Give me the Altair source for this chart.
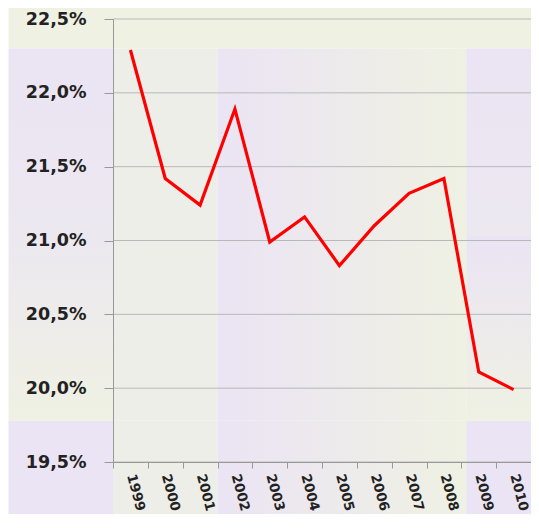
import altair as alt
import pandas as pd

# ---- data ----
years = list(range(1999, 2011))
values = [22.29, 21.42, 21.24, 21.89, 20.99, 21.16, 20.83, 21.10, 21.32, 21.42, 20.11, 19.99]
y_ticks = [19.5, 20.0, 20.5, 21.0, 21.5, 22.0, 22.5]
x_bounds = [1998.5 + i for i in range(13)]

df = pd.DataFrame({"year": years, "value": values})
grid_df = pd.DataFrame({"v": y_ticks})

GREEN = "#eff1e3"
LAV = "#ebe4f4"
GREY = "#eeeee8"
LAVGREY = "#ece8f0"

def lin(c0, c1, vertical=False):
    return alt.LinearGradient(
        gradient="linear",
        x1=0, y1=0,
        x2=0 if vertical else 1,
        y2=1 if vertical else 0,
        stops=[alt.GradientStop(offset=0, color=c0), alt.GradientStop(offset=1, color=c1)],
    )

# decorative background tiles (data units)
XL, XA, XB, XC, XR = 1995.5, 1998.5, 2001.5, 2008.64, 2010.8
YT, Y1, Y2, Y3, YB = 22.64, 22.30, 21.03, 19.78, 19.0
tiles = [
    (XL, XR, Y1, YT, GREEN),
    (XL, XA, Y2, Y1, lin(LAV, LAVGREY, True)),
    (XA, XB, Y2, Y1, GREY),
    (XB, XC, Y2, Y1, lin(LAV, GREEN)),
    (XC, XR, Y2, Y1, lin(LAV, LAVGREY, True)),
    (XL, XA, Y3, Y2, lin(LAVGREY, GREEN, True)),
    (XA, XB, Y3, Y2, GREY),
    (XB, XC, Y3, Y2, lin(LAV, GREEN)),
    (XC, XR, Y3, Y2, lin(LAV, GREEN, True)),
    (XL, XA, YB, Y3, LAV),
    (XA, XB, YB, Y3, GREY),
    (XB, XC, YB, Y3, lin(LAV, GREEN)),
    (XC, XR, YB, Y3, LAV),
]

xscale = alt.Scale(domain=[1998.5, 2010.5], nice=False, zero=False)
yscale = alt.Scale(domain=[19.5, 22.5], nice=False, zero=False)

x_axis = alt.Axis(
    values=x_bounds,
    labelExpr="datum.value < 2010 ? toString(datum.value + 0.5) : ''",
    labelOffset=17.4,
    labelAngle=75,
    labelAlign="left",
    labelBaseline="middle",
    labelFont="DejaVu Sans",
    labelFontSize=13.5,
    labelFontWeight="bold",
    labelColor="#222222",
    labelPadding=6,
    labelFlush=False,
    labelOverlap=False,
    tickSize=6,
    tickColor="#999999",
    domainColor="#999999",
    grid=False,
    title=None,
    zindex=1,
)
y_axis = alt.Axis(
    values=y_ticks,
    labelExpr="replace(format(datum.value, '.1f'), '.', ',') + '%'",
    labelFont="DejaVu Sans",
    labelFontSize=17.5,
    labelFontWeight="bold",
    labelColor="#222222",
    labelPadding=18,
    labelFlush=False,
    tickSize=9,
    tickColor="#999999",
    domainColor="#999999",
    grid=False,
    title=None,
    zindex=1,
)

layers = []
for (x0, x1, y0, y1, fill) in tiles:
    t = pd.DataFrame({"x0": [x0], "x1": [x1], "y0": [y0], "y1": [y1]})
    layers.append(
        alt.Chart(t).mark_rect(fill=fill, strokeWidth=0).encode(
            x=alt.X("x0:Q", scale=xscale, axis=x_axis),
            x2="x1:Q",
            y=alt.Y("y0:Q", scale=yscale, axis=y_axis),
            y2="y1:Q",
        )
    )

grid = alt.Chart(grid_df).mark_rule(color="#b8b8b8", strokeWidth=1).encode(
    y=alt.Y("v:Q", scale=yscale, axis=y_axis)
)

line = alt.Chart(df).mark_line(color="#ff0000", strokeWidth=3.2, strokeJoin="miter").encode(
    x=alt.X("year:Q", scale=xscale, axis=x_axis),
    y=alt.Y("value:Q", scale=yscale, axis=y_axis),
)

chart = (
    alt.layer(*layers, grid, line)
    .properties(
        width=418,
        height=443,
        autosize="none",
        padding={"left": 105, "top": 11, "right": 0, "bottom": 52},
        background="white",
    )
    .configure_view(stroke=None)
)

chart.save("out.html", embed_options={"renderer": "svg", "actions": False})
